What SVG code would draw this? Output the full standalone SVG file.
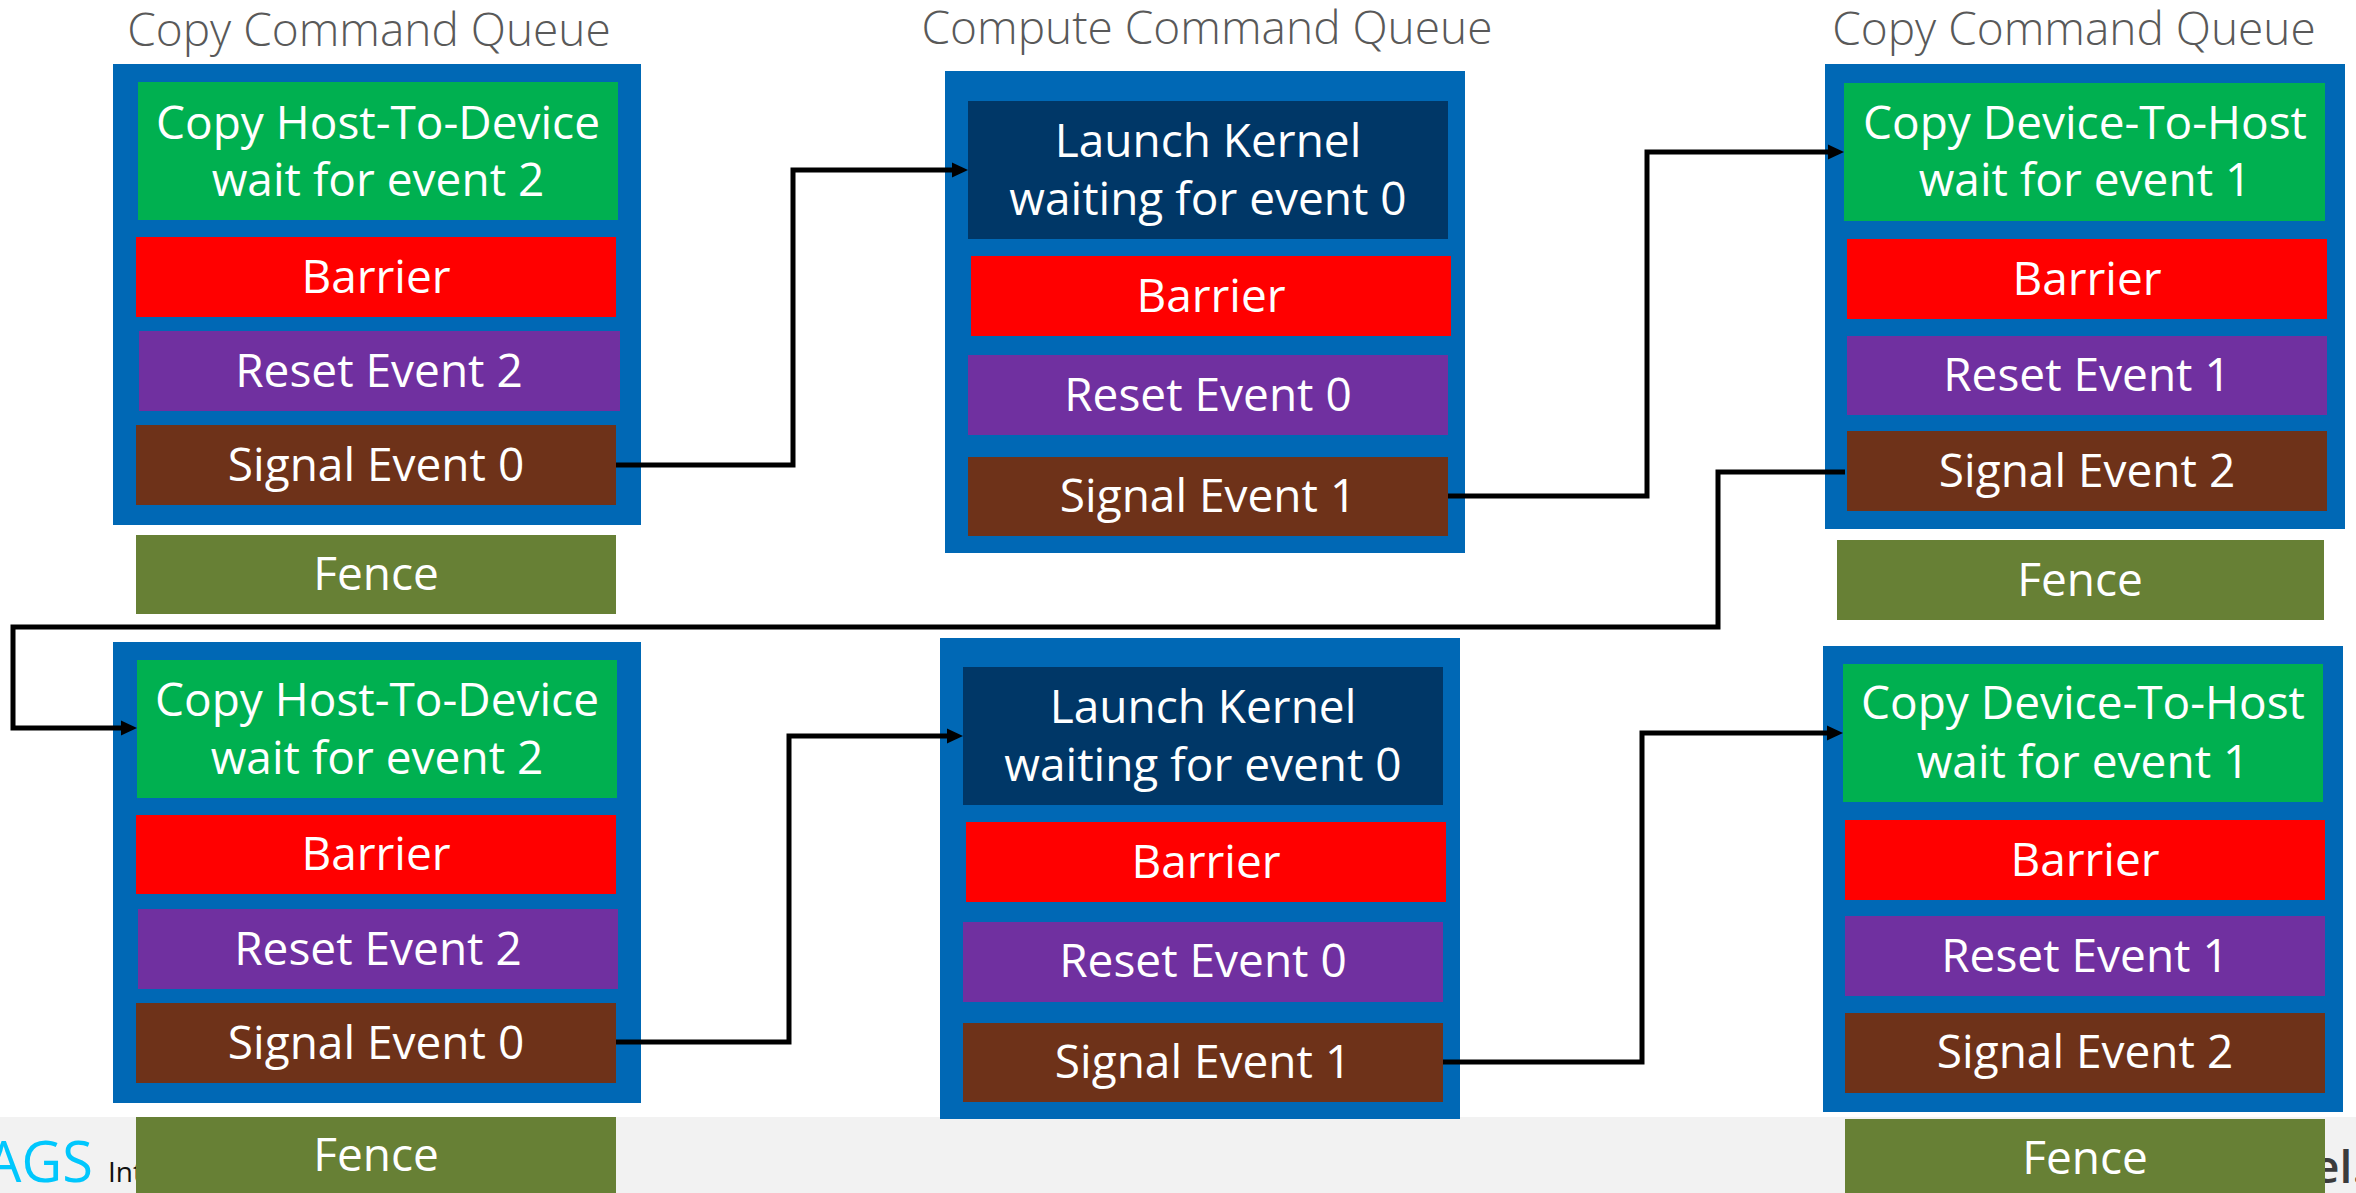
<svg xmlns="http://www.w3.org/2000/svg" width="2356" height="1193" viewBox="0 0 2356 1193">
  <style>
    .title { font-family: "Open Sans", "Noto Sans", sans-serif; font-weight: 300; font-size: 46px; fill: #595959; text-anchor: middle; }
    .lbl { font-family: "Open Sans", "Noto Sans", sans-serif; font-size: 46px; fill: #ffffff; text-anchor: middle; }
    .queue { fill: #0068B5; }
    .copy { fill: #00B050; }
    .kernel { fill: #003767; }
    .barrier { fill: #FF0000; }
    .reset { fill: #7030A0; }
    .signal { fill: #6E3219; }
    .fence { fill: #678035; }
    .wire { fill: none; stroke: #000000; stroke-width: 5; stroke-linejoin: miter; marker-end: url(#arrow); }
    .wire-plain { fill: none; stroke: #000000; stroke-width: 5; }
  </style>
  <defs>
    <marker id="arrow" markerUnits="userSpaceOnUse" markerWidth="16" markerHeight="16" viewBox="0 0 16 16" refX="6" refY="8" orient="auto">
      <path d="M0,0.5 L16,8 L0,15.5 z" fill="#000000"/>
    </marker>
  </defs>

  <rect width="2356" height="1193" fill="#ffffff"/>

  <!-- slide footer band -->
  <g id="footer">
    <rect x="0" y="1117" width="2356" height="76" fill="#F2F2F2"/>
    <text x="-14" y="1182" font-family="Open Sans, sans-serif" font-size="56" fill="#00C7FD">AGS</text>
    <text x="108" y="1182" font-family="Open Sans, sans-serif" font-size="28" fill="#111111">Int</text>
    <text x="2313" y="1183" font-family="Open Sans, sans-serif" font-size="46" font-weight="600" fill="#3B3B3B">el.</text>
  </g>

  <!-- queue titles -->
  <g id="titles">
    <text class="title" x="369" y="46">Copy Command Queue</text>
    <text class="title" x="1207" y="44">Compute Command Queue</text>
    <text class="title" x="2074" y="45">Copy Command Queue</text>
  </g>

  <!-- top-left copy queue -->
  <g id="copy-queue-1">
    <rect class="queue" x="113" y="64" width="528" height="461"/>
    <g id="q1-copy">
      <rect class="copy" x="138" y="82" width="480" height="138"/>
      <text class="lbl" x="378" y="139">Copy Host-To-Device</text>
      <text class="lbl" x="378" y="196">wait for event 2</text>
    </g>
    <g id="q1-barrier">
      <rect class="barrier" x="136" y="237" width="480" height="80"/>
      <text class="lbl" x="376" y="293">Barrier</text>
    </g>
    <g id="q1-reset">
      <rect class="reset" x="139" y="331" width="481" height="80"/>
      <text class="lbl" x="379" y="387">Reset Event 2</text>
    </g>
    <g id="q1-signal">
      <rect class="signal" x="136" y="425" width="480" height="80"/>
      <text class="lbl" x="376" y="481">Signal Event 0</text>
    </g>
  </g>
  <g id="q1-fence">
    <rect class="fence" x="136" y="535" width="480" height="79"/>
    <text class="lbl" x="376" y="590">Fence</text>
  </g>

  <!-- top-middle compute queue -->
  <g id="compute-queue-1">
    <rect class="queue" x="945" y="71" width="520" height="482"/>
    <g id="q2-kernel">
      <rect class="kernel" x="968" y="101" width="480" height="138"/>
      <text class="lbl" x="1208" y="157">Launch Kernel</text>
      <text class="lbl" x="1208" y="215">waiting for event 0</text>
    </g>
    <g id="q2-barrier">
      <rect class="barrier" x="971" y="256" width="480" height="80"/>
      <text class="lbl" x="1211" y="312">Barrier</text>
    </g>
    <g id="q2-reset">
      <rect class="reset" x="968" y="355" width="480" height="80"/>
      <text class="lbl" x="1208" y="411">Reset Event 0</text>
    </g>
    <g id="q2-signal">
      <rect class="signal" x="968" y="457" width="480" height="79"/>
      <text class="lbl" x="1208" y="512">Signal Event 1</text>
    </g>
  </g>

  <!-- top-right copy queue -->
  <g id="copy-queue-2">
    <rect class="queue" x="1825" y="64" width="520" height="465"/>
    <g id="q3-copy">
      <rect class="copy" x="1844" y="83" width="481" height="138"/>
      <text class="lbl" x="2085" y="139">Copy Device-To-Host</text>
      <text class="lbl" x="2085" y="196">wait for event 1</text>
    </g>
    <g id="q3-barrier">
      <rect class="barrier" x="1847" y="239" width="480" height="80"/>
      <text class="lbl" x="2087" y="295">Barrier</text>
    </g>
    <g id="q3-reset">
      <rect class="reset" x="1847" y="336" width="480" height="79"/>
      <text class="lbl" x="2087" y="391">Reset Event 1</text>
    </g>
    <g id="q3-signal">
      <rect class="signal" x="1847" y="431" width="480" height="80"/>
      <text class="lbl" x="2087" y="487">Signal Event 2</text>
    </g>
  </g>
  <g id="q3-fence">
    <rect class="fence" x="1837" y="540" width="487" height="80"/>
    <text class="lbl" x="2080" y="596">Fence</text>
  </g>

  <!-- bottom-left copy queue -->
  <g id="copy-queue-3">
    <rect class="queue" x="113" y="642" width="528" height="461"/>
    <g id="q4-copy">
      <rect class="copy" x="137" y="660" width="480" height="138"/>
      <text class="lbl" x="377" y="716">Copy Host-To-Device</text>
      <text class="lbl" x="377" y="774">wait for event 2</text>
    </g>
    <g id="q4-barrier">
      <rect class="barrier" x="136" y="815" width="480" height="79"/>
      <text class="lbl" x="376" y="870">Barrier</text>
    </g>
    <g id="q4-reset">
      <rect class="reset" x="138" y="909" width="480" height="80"/>
      <text class="lbl" x="378" y="965">Reset Event 2</text>
    </g>
    <g id="q4-signal">
      <rect class="signal" x="136" y="1003" width="480" height="80"/>
      <text class="lbl" x="376" y="1059">Signal Event 0</text>
    </g>
  </g>
  <g id="q4-fence">
    <rect class="fence" x="136" y="1117" width="480" height="80"/>
    <text class="lbl" x="376" y="1171">Fence</text>
  </g>

  <!-- bottom-middle compute queue -->
  <g id="compute-queue-2">
    <rect class="queue" x="940" y="638" width="520" height="481"/>
    <g id="q5-kernel">
      <rect class="kernel" x="963" y="667" width="480" height="138"/>
      <text class="lbl" x="1203" y="723">Launch Kernel</text>
      <text class="lbl" x="1203" y="781">waiting for event 0</text>
    </g>
    <g id="q5-barrier">
      <rect class="barrier" x="966" y="822" width="480" height="80"/>
      <text class="lbl" x="1206" y="878">Barrier</text>
    </g>
    <g id="q5-reset">
      <rect class="reset" x="963" y="922" width="480" height="80"/>
      <text class="lbl" x="1203" y="977">Reset Event 0</text>
    </g>
    <g id="q5-signal">
      <rect class="signal" x="963" y="1023" width="480" height="79"/>
      <text class="lbl" x="1203" y="1078">Signal Event 1</text>
    </g>
  </g>

  <!-- bottom-right copy queue -->
  <g id="copy-queue-4">
    <rect class="queue" x="1823" y="646" width="520" height="466"/>
    <g id="q6-copy">
      <rect class="copy" x="1843" y="664" width="480" height="138"/>
      <text class="lbl" x="2083" y="719">Copy Device-To-Host</text>
      <text class="lbl" x="2083" y="778">wait for event 1</text>
    </g>
    <g id="q6-barrier">
      <rect class="barrier" x="1845" y="820" width="480" height="80"/>
      <text class="lbl" x="2085" y="876">Barrier</text>
    </g>
    <g id="q6-reset">
      <rect class="reset" x="1845" y="916" width="480" height="80"/>
      <text class="lbl" x="2085" y="972">Reset Event 1</text>
    </g>
    <g id="q6-signal">
      <rect class="signal" x="1845" y="1013" width="480" height="80"/>
      <text class="lbl" x="2085" y="1068">Signal Event 2</text>
    </g>
  </g>
  <g id="q6-fence">
    <rect class="fence" x="1845" y="1119" width="480" height="80"/>
    <text class="lbl" x="2085" y="1174">Fence</text>
  </g>

  <!-- event dependencies between queues -->
  <g id="connectors">
    <path class="wire" d="M616,465 H793 V170 H958"/>
    <path class="wire" d="M1448,496 H1647 V152 H1834"/>
    <path class="wire" d="M1845,472 H1718 V627 H13 V728 H127"/>
    <path class="wire" d="M616,1042 H789 V736 H953"/>
    <path class="wire" d="M1443,1062 H1642 V733 H1833"/>
  </g>
</svg>
